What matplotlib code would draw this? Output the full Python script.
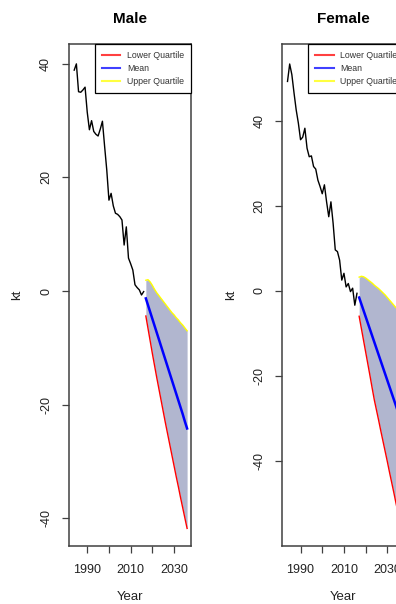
import matplotlib
matplotlib.use("Agg")
import matplotlib.pyplot as plt
from matplotlib.lines import Line2D
import numpy as np

plt.rcParams['font.family'] = ['Liberation Sans', 'DejaVu Sans']

hist_years = list(range(1984, 2017))
fc_years = list(range(2017, 2037))

male_hist = [38.9, 40.0, 35.1, 35.0, 35.4, 35.9, 31.5, 28.4, 30.0, 28.1, 27.6, 27.3,
             28.5, 29.9, 25.5, 21.3, 16.0, 17.2, 15.0, 13.7, 13.5, 13.1, 12.5, 8.1,
             11.3, 5.8, 4.8, 3.7, 1.1, 0.6, 0.2, -0.7, -0.1]
male_upper = [1.9, 2.0, 1.6, 1.0, 0.3, -0.3, -0.8, -1.3, -1.8, -2.3, -2.8, -3.3,
              -3.8, -4.2, -4.7, -5.1, -5.6, -6.0, -6.5, -7.0]
male_mean = [-1.3, -2.5, -3.7, -4.9, -6.1, -7.3, -8.5, -9.7, -10.9, -12.1, -13.3,
             -14.5, -15.7, -16.9, -18.1, -19.3, -20.5, -21.7, -23.0, -24.2]
male_lower = [-4.4, -6.6, -8.8, -11.0, -13.1, -15.2, -17.2, -19.2, -21.2, -23.2,
              -25.1, -27.0, -28.9, -30.8, -32.7, -34.5, -36.4, -38.2, -40.0, -41.8]

female_hist = [49.2, 53.3, 50.8, 46.5, 42.5, 39.4, 35.5, 36.1, 38.2, 33.5, 31.5,
               31.7, 29.2, 28.6, 26.0, 24.5, 22.8, 24.9, 20.9, 17.4, 20.9, 15.9,
               9.6, 9.2, 7.2, 2.5, 4.1, 0.9, 1.7, -0.2, 0.6, -3.4, -0.6]
female_upper = [3.2, 3.4, 3.3, 3.0, 2.6, 2.2, 1.8, 1.3, 0.9, 0.5, 0.0, -0.5, -1.0,
                -1.6, -2.2, -2.8, -3.4, -4.0, -4.6, -5.2]
female_mean = [-1.6, -3.1, -4.6, -6.1, -7.6, -9.1, -10.6, -12.1, -13.6, -15.1,
               -16.6, -18.1, -19.6, -21.1, -22.6, -24.1, -25.6, -27.1, -28.6, -30.1]
female_lower = [-6.0, -8.8, -11.6, -14.4, -17.2, -20.0, -22.9, -25.7, -28.1, -30.5,
                -33.0, -35.4, -37.8, -40.2, -42.7, -45.1, -47.5, -50.0, -52.4, -55.0]

titles = ["Male", "Female"]
legend_labels = ["Lower Quartile", "Mean", "Upper Quartile"]
xticks = [1990, 2000, 2010, 2020, 2030]
xticklabels = ["1990", "", "2010", "", "2030"]
yticks = [-40, -20, 0, 20, 40]

W, H = 396, 604
fig = plt.figure(figsize=(W / 100, H / 100), dpi=100)

panels = [
    (69, (-44.9, 43.5), male_hist, male_upper, male_mean, male_lower),
    (282.3, (-60.0, 58.0), female_hist, female_upper, female_mean, female_lower),
]

fill_col = '#B1B6CF'
edge_col = '#404040'

for (left, ylim, hist, up, mean, low), title in zip(panels, titles):
    ax = fig.add_axes([left / W, 1 - 546 / H, 122 / W, (546 - 44) / H])
    ax.fill_between(fc_years, low, up, color=fill_col, lw=0, zorder=1)
    ax.plot(hist_years, hist, color='black', lw=1.0, zorder=3)
    ax.plot(fc_years, low, color='#FF0000', lw=1.0, zorder=3)
    ax.plot(fc_years, up, color='#FFFF00', lw=1.0, zorder=3)
    ax.plot(fc_years, mean, color='#0000FF', lw=1.8, zorder=4)
    ax.set_xlim(1981.6, 2037.8)
    ax.set_ylim(*ylim)
    ax.set_xticks(xticks)
    ax.set_xticklabels(xticklabels)
    ax.set_yticks(yticks)
    ax.set_yticklabels([str(v) for v in yticks], rotation=90, va='center')
    ax.tick_params(direction='out', length=5.2, width=0.9, color=edge_col,
                   labelsize=9, labelcolor='#222222')
    ax.tick_params(axis='x', pad=7.5)
    ax.tick_params(axis='y', pad=7)
    for s in ax.spines.values():
        s.set_color(edge_col)
        s.set_linewidth(1.1)
    ax.set_title(title, fontsize=11, fontweight='bold', pad=15)
    ax.set_xlabel("Year", fontsize=9.5, labelpad=11, color='#222222')
    ax.set_ylabel("kt", fontsize=9.5, labelpad=12, color='#222222')
    handles = [Line2D([], [], color=c, lw=1.5) for c in ('#FF4040', '#4040FF', '#FFFF40')]
    leg = ax.legend(handles, legend_labels, loc='upper right', fontsize=6.3,
                    frameon=True, fancybox=False, framealpha=1, edgecolor='black',
                    borderaxespad=0, handlelength=2.1, handletextpad=0.75,
                    labelspacing=0.45, borderpad=0.8)
    leg.get_frame().set_linewidth(0.9)
    for t in leg.get_texts():
        t.set_color('#333333')

fig.savefig("out.png", dpi=100)
